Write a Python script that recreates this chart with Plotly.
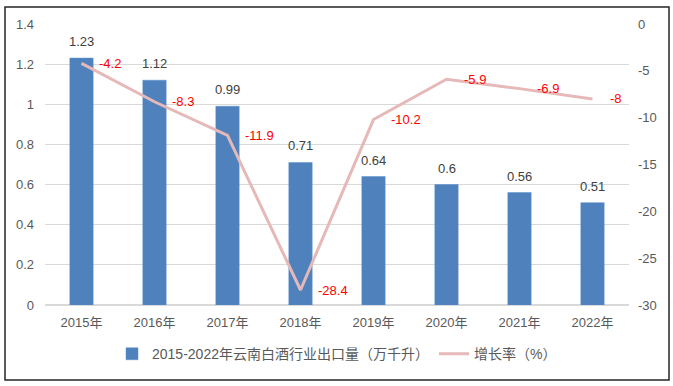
import plotly.graph_objects as go

years = ["2015年", "2016年", "2017年", "2018年", "2019年", "2020年", "2021年", "2022年"]
export_volume = [1.23, 1.12, 0.99, 0.71, 0.64, 0.6, 0.56, 0.51]
growth_rate = [-4.2, -8.3, -11.9, -28.4, -10.2, -5.9, -6.9, -8]
left_ticks = [0, 0.2, 0.4, 0.6, 0.8, 1, 1.2, 1.4]
right_ticks = [0, -5, -10, -15, -20, -25, -30]
bar_name = "2015-2022年云南白酒行业出口量（万千升）"
line_name = "增长率（%）"

FONT = "Liberation Sans, Noto Sans CJK SC, sans-serif"

fig = go.Figure()
fig.add_trace(go.Bar(
    x=years, y=export_volume, name=bar_name,
    marker=dict(color="#4F81BD", line=dict(color="#5B8FCB", width=0.5)),
    width=0.32,
))
fig.add_trace(go.Scatter(
    x=years, y=growth_rate, name=line_name, yaxis="y2",
    mode="lines", line=dict(color="#E6B9B8", width=3),
))

annotations = []
for x, v in zip(years, export_volume):
    annotations.append(dict(x=x, y=v, xref="x", yref="y", text=str(v),
                            showarrow=False, yanchor="bottom", yshift=7,
                            font=dict(size=13, color="#404040", family=FONT)))
for x, v in zip(years, growth_rate):
    annotations.append(dict(x=x, y=v, xref="x", yref="y2", text=str(v),
                            showarrow=False, xanchor="left", xshift=15,
                            font=dict(size=13, color="#FF0000", family=FONT)))

fig.update_layout(
    width=673, height=386,
    margin=dict(l=45, r=44, t=24, b=81),
    paper_bgcolor="white", plot_bgcolor="white",
    font=dict(family=FONT, size=13, color="#595959"),
    xaxis=dict(type="category", showgrid=False, showline=False, ticks="",
               tickfont=dict(size=13, color="#595959"), ticklabelstandoff=8),
    yaxis=dict(range=[0, 1.4], tickvals=left_ticks,
               ticktext=[f"{t:g}" for t in left_ticks],
               showgrid=True, gridcolor="#D9D9D9", gridwidth=1,
               zeroline=True, zerolinecolor="#D9D9D9", showline=False,
               ticks="", ticklabelstandoff=10),
    yaxis2=dict(range=[-30, 0], overlaying="y", side="right",
                tickvals=right_ticks, ticktext=[f"{t:g}" for t in right_ticks],
                showgrid=False, zeroline=False, showline=False, ticks="",
                ticklabelstandoff=8),
    legend=dict(orientation="h", x=0.5, xanchor="center", y=-0.175, yanchor="middle",
                font=dict(size=14, color="#595959"), itemwidth=30,
                bgcolor="rgba(0,0,0,0)"),
    annotations=annotations,
    shapes=[dict(type="rect", xref="paper", yref="paper",
                 x0=-0.0685, x1=1.0685, y0=-0.267, y1=1.0605,
                 line=dict(color="#262626", width=1.5), fillcolor="rgba(0,0,0,0)",
                 layer="below")],
)

fig.write_html("out.html", config={"displayModeBar": False},
               post_script="document.body.style.margin='0';")
